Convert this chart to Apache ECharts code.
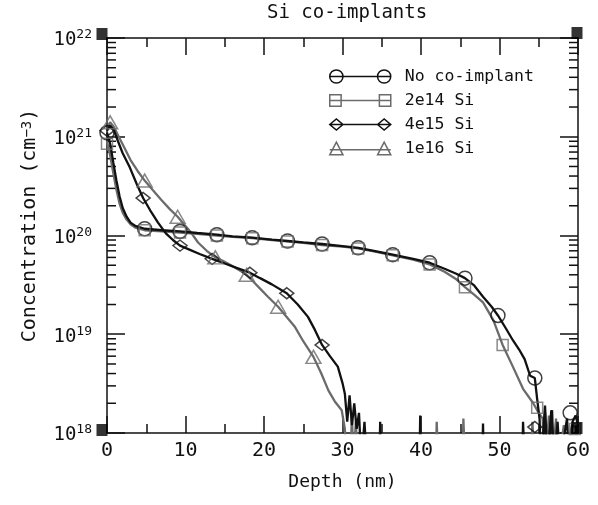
<!DOCTYPE html>
<html>
<head>
<meta charset="utf-8">
<title>Si co-implants</title>
<script src="https://cdn.jsdelivr.net/npm/echarts@6/dist/echarts.min.js"></script>
<style>
  html, body { margin: 0; padding: 0; background: #fff; }
  #chart { width: 598px; height: 505px; }
</style>
</head>
<body>
<div id="chart"></div>
<script>
// depth (nm), concentration (cm^-3)
const noImplantLine = [
  [0, 1.1e21], [0.4, 8.5e20], [0.8, 5.5e20], [1.2, 3.6e20], [1.6, 2.5e20], [2.0, 1.9e20],
  [2.5, 1.55e20], [3.0, 1.35e20], [3.6, 1.25e20], [4.8, 1.17e20], [7, 1.13e20], [9.3, 1.1e20],
  [11.5, 1.06e20], [14, 1.02e20], [16, 9.8e19], [18.5, 9.5e19], [21, 9.1e19], [23, 8.8e19],
  [25, 8.5e19], [27.4, 8.2e19], [30, 7.8e19], [32, 7.5e19], [34, 7.0e19], [36.4, 6.4e19],
  [39, 5.8e19], [41.1, 5.3e19], [43, 4.6e19], [44.5, 4.1e19], [45.6, 3.7e19], [46.8, 3.1e19],
  [47.9, 2.4e19], [49, 1.9e19], [49.8, 1.55e19], [50.8, 1.15e19], [51.7, 8.7e18], [52.5, 7e18],
  [53.2, 5.6e18], [53.9, 3.8e18], [54.5, 3.6e18], [54.8, 2.2e18], [55.1, 1.4e18], [55.3, 5e17],
  [55.8, 1.9e18], [56.1, 5e17], [56.6, 1.7e18], [56.9, 5e17], [57.4, 1.3e18], [57.7, 5e17],
  [58.6, 1.4e18], [58.9, 5e17], [59.3, 1.3e18], [59.7, 1.5e18], [60, 1.2e18]
];
const noImplantMarks = [
  [0, 1.1e21], [4.8, 1.17e20], [9.3, 1.1e20], [14, 1.02e20], [18.5, 9.5e19], [23, 8.8e19],
  [27.4, 8.2e19], [32, 7.5e19], [36.4, 6.4e19], [41.1, 5.3e19], [45.6, 3.7e19], [49.8, 1.55e19],
  [54.5, 3.6e18], [59, 1.6e18]
];

const si2e14Line = [
  [0, 9e20], [0.4, 6.5e20], [0.8, 4.3e20], [1.2, 2.9e20], [1.6, 2.1e20], [2.0, 1.7e20],
  [2.5, 1.45e20], [3.0, 1.3e20], [3.6, 1.2e20], [4.8, 1.13e20], [7, 1.1e20], [9.3, 1.07e20],
  [11.5, 1.04e20], [14, 1.0e20], [16, 9.7e19], [18.5, 9.4e19], [21, 9.0e19], [23, 8.7e19],
  [25, 8.4e19], [27.4, 8.0e19], [30, 7.7e19], [32, 7.4e19], [34, 6.9e19], [36.4, 6.3e19],
  [39, 5.7e19], [41.1, 5.1e19], [43, 4.3e19], [44.5, 3.6e19], [45.6, 3.0e19], [46.8, 2.5e19],
  [47.9, 2.1e19], [49.2, 1.4e19], [50.4, 7.8e18], [51.7, 4.7e18], [53, 2.8e18], [54.3, 2.0e18],
  [55.0, 1.6e18], [55.5, 1.4e18], [55.8, 5e17], [56.3, 1.5e18], [56.6, 5e17], [57.2, 1.3e18],
  [57.5, 5e17], [58.2, 1.2e18], [58.5, 5e17], [59.2, 1.2e18], [60, 1.1e18]
];
const si2e14Marks = [
  [0, 8.5e20], [4.8, 1.13e20], [9.3, 1.07e20], [14, 1.0e20], [18.5, 9.4e19], [23, 8.7e19],
  [27.4, 8.0e19], [32, 7.4e19], [36.4, 6.3e19], [41.1, 5.1e19], [45.6, 3.0e19], [50.4, 7.8e18],
  [54.8, 1.8e18], [59.6, 1.1e18]
];

const si4e15Line = [
  [0, 1.15e21], [0.4, 1.3e21], [0.9, 1.15e21], [1.4, 9e20], [2.0, 6.8e20], [2.9, 4.9e20],
  [3.8, 3.3e20], [4.6, 2.4e20], [5.5, 1.8e20], [6.5, 1.35e20], [7.5, 1.05e20], [8.4, 9e19],
  [9.3, 7.9e19], [10.5, 7.2e19], [11.8, 6.5e19], [13.4, 5.8e19], [15, 5.2e19], [16.5, 4.7e19],
  [18.2, 4.2e19], [19.5, 3.7e19], [21, 3.2e19], [22.9, 2.6e19], [24.3, 2.0e19], [25.6, 1.5e19],
  [26.5, 1.1e19], [27.4, 7.8e18], [28.4, 6e18], [29.4, 4.7e18], [30.0, 3.2e18], [30.3, 2.5e18],
  [30.6, 1.3e18], [30.9, 2.4e18], [31.2, 1.2e18], [31.5, 2.0e18], [31.8, 1.1e18], [32.1, 1.6e18],
  [32.4, 5e17], [32.8, 1.3e18], [33.1, 5e17], [34.7, 5e17], [34.8, 1.3e18], [34.9, 5e17],
  [39.8, 5e17], [39.9, 1.5e18], [40.0, 5e17], [47.8, 5e17], [47.9, 1.25e18], [48.0, 5e17],
  [52.9, 5e17], [53.0, 1.3e18], [53.2, 5e17], [55.6, 5e17], [55.8, 1.6e18], [56, 5e17],
  [56.7, 1.7e18], [56.9, 5e17], [59.5, 5e17], [59.8, 1.2e18], [60, 5e17]
];
const si4e15Marks = [
  [0, 1.15e21], [4.6, 2.4e20], [9.3, 7.9e19], [13.4, 5.8e19], [18.2, 4.2e19], [22.9, 2.6e19],
  [27.4, 7.8e18], [54.5, 1.15e18]
];

const si1e16Line = [
  [0, 1.25e21], [0.4, 1.4e21], [0.9, 1.25e21], [1.5, 1.0e21], [2.2, 7.8e20], [3.0, 5.8e20],
  [3.9, 4.5e20], [4.8, 3.6e20], [5.8, 2.9e20], [6.9, 2.3e20], [8.0, 1.85e20], [9.0, 1.55e20],
  [9.8, 1.3e20], [10.6, 1.1e20], [11.6, 8.5e19], [12.7, 7e19], [13.8, 6.0e19], [14.8, 5.5e19],
  [16.2, 4.8e19], [17.8, 4.0e19], [18.5, 3.5e19], [19.5, 2.9e19], [20.5, 2.4e19], [21.8, 1.9e19],
  [23.9, 1.2e19], [25, 8.5e18], [26.3, 5.9e18], [27.3, 4e18], [28.2, 2.7e18], [29.0, 2.1e18],
  [29.9, 1.7e18], [30.3, 1.1e18], [30.5, 5e17], [31.0, 5e17], [31.2, 1.5e18], [31.4, 5e17],
  [31.7, 1.3e18], [31.9, 5e17], [41.9, 5e17], [42.0, 1.3e18], [42.2, 5e17], [45.3, 5e17],
  [45.4, 1.4e18], [45.6, 5e17], [54.0, 5e17], [54.2, 1.3e18], [54.4, 5e17], [57.0, 5e17],
  [57.2, 1.4e18], [57.4, 5e17], [60, 5e17]
];
const si1e16Marks = [
  [0.4, 1.4e21], [4.8, 3.6e20], [9.0, 1.55e20], [13.8, 6.0e19], [17.8, 4.0e19], [21.8, 1.9e19],
  [26.3, 5.9e18]
];

const seriesNames = ['No co-implant', '2e14 Si', '4e15 Si', '1e16 Si'];
const cornerPoints = [[0, 1e22], [60, 1e22], [0, 1e18], [60, 1e18]];

// minor log ticks 2..9 per decade
const yMinorTicks = [];
for (let n = 18; n < 22; n++) {
  for (let k = 2; k <= 9; k++) yMinorTicks.push(k * Math.pow(10, n));
}

const FONT = 'DejaVu Sans Mono';
const INK = '#111';
const GRAY = '#6b6b6b';

// legend icons: marker - line - marker, 61 x 14
const icons = {
  circle: 'path://M0.5,7A6.5,6.5,0,1,1,13.5,7A6.5,6.5,0,1,1,0.5,7ZM47.5,7A6.5,6.5,0,1,1,60.5,7A6.5,6.5,0,1,1,47.5,7ZM0.5,7L60.5,7',
  square: 'path://M1,1.5L12,1.5L12,12.5L1,12.5ZM49,1.5L60,1.5L60,12.5L49,12.5ZM1,7L60,7',
  diamond: 'path://M0.5,7L7,1.5L13.5,7L7,12.5ZM47.5,7L54,1.5L60.5,7L54,12.5ZM0.5,7L60.5,7',
  triangle: 'path://M0.5,13L7,0.5L13.5,13ZM47.5,13L54,0.5L60.5,13ZM0.5,8L60.5,8'
};

const chart = echarts.init(document.getElementById('chart'));

function lineSeries(name, data, color) {
  return {
    name: name, type: 'line', data: data,
    showSymbol: false, symbol: 'none',
    lineStyle: { color: color, width: 2.3 },
    itemStyle: { color: color },
    clip: true, z: 2
  };
}

function markSeries(name, data, color, symbol, size) {
  return {
    name: name, type: 'scatter', data: data,
    symbol: symbol, symbolSize: size,
    itemStyle: { color: 'rgba(0,0,0,0)', borderColor: color, borderWidth: 1.5 },
    clip: false, z: 3
  };
}

const tickStyle = { color: INK, width: 1.5 };
const axisCommon = {
  axisLine: { onZero: false, lineStyle: { color: INK, width: 1.5 } },
  splitLine: { show: false }
};

chart.setOption({
  animation: false,
  backgroundColor: '#fff',
  title: {
    text: 'Si co-implants',
    left: 267, top: 4, padding: 0,
    textStyle: { fontFamily: FONT, fontSize: 19, fontWeight: 'normal', color: INK }
  },
  legend: {
    orient: 'vertical', left: 329, top: 68, padding: 0,
    itemWidth: 61, itemHeight: 14, itemGap: 7,
    selectedMode: false,
    textStyle: { fontFamily: FONT, fontSize: 16.5, color: INK, padding: [0, 0, 0, 9] },
    data: [
      { name: seriesNames[0], icon: icons.circle, itemStyle: { color: 'rgba(0,0,0,0)', borderColor: INK, borderWidth: 1.5 } },
      { name: seriesNames[1], icon: icons.square, itemStyle: { color: 'rgba(0,0,0,0)', borderColor: GRAY, borderWidth: 1.5 } },
      { name: seriesNames[2], icon: icons.diamond, itemStyle: { color: 'rgba(0,0,0,0)', borderColor: INK, borderWidth: 1.5 } },
      { name: seriesNames[3], icon: icons.triangle, itemStyle: { color: 'rgba(0,0,0,0)', borderColor: GRAY, borderWidth: 1.5 } }
    ]
  },
  grid: { left: 107, right: 20, top: 38, bottom: 72 },
  xAxis: [
    Object.assign({
      type: 'value', min: 0, max: 60, interval: 10,
      name: 'Depth (nm)', nameLocation: 'middle', nameGap: 40,
      nameTextStyle: { fontFamily: FONT, fontSize: 18, color: INK },
      axisTick: { inside: true, length: 17, lineStyle: tickStyle },
      minorTick: { show: true, splitNumber: 2, length: 9, lineStyle: tickStyle },
      axisLabel: { fontFamily: FONT, fontSize: 20, color: INK, margin: 8 }
    }, axisCommon),
    Object.assign({
      type: 'value', min: 0, max: 60, interval: 10, position: 'top',
      axisTick: { inside: true, length: 17, lineStyle: tickStyle },
      minorTick: { show: true, splitNumber: 2, length: 9, lineStyle: tickStyle },
      axisLabel: { show: false }
    }, axisCommon)
  ],
  yAxis: [
    Object.assign({
      type: 'log', logBase: 10, min: 1e18, max: 1e22, splitNumber: 4,
      name: 'Concentration (cm{s|−3})', nameLocation: 'middle', nameGap: 67,
      nameTextStyle: {
        fontFamily: FONT, fontSize: 20, color: INK, padding: [0, 0, 0, 20],
        rich: {
          s: { fontFamily: FONT, fontSize: 14, color: INK, verticalAlign: 'top', lineHeight: 14 }
        }
      },
      axisTick: { inside: true, length: 18, lineStyle: tickStyle },
      axisLabel: {
        margin: 15,
        formatter: function (v) { return '{b|10}{s|' + Math.round(Math.log10(v)) + '}'; },
        rich: {
          b: { fontFamily: FONT, fontSize: 19, color: INK, lineHeight: 19, padding: [5, 0, 0, 0] },
          s: { fontFamily: FONT, fontSize: 13, color: INK, lineHeight: 13, verticalAlign: 'top' }
        }
      }
    }, axisCommon),
    Object.assign({
      type: 'log', logBase: 10, min: 1e18, max: 1e22, splitNumber: 4, position: 'right',
      axisTick: { inside: true, length: 18, lineStyle: tickStyle },
      axisLabel: { show: false }
    }, axisCommon)
  ],
  series: [
    lineSeries(seriesNames[1], si2e14Line, GRAY),
    lineSeries(seriesNames[3], si1e16Line, GRAY),
    lineSeries(seriesNames[0], noImplantLine, INK),
    lineSeries(seriesNames[2], si4e15Line, INK),
    markSeries(seriesNames[0], noImplantMarks, INK, 'circle', 14),
    markSeries(seriesNames[1], si2e14Marks, GRAY, 'rect', 11),
    markSeries(seriesNames[2], si4e15Marks, INK, 'diamond', [14, 11]),
    markSeries(seriesNames[3], si1e16Marks, GRAY, 'triangle', [15, 13]),
    {
      type: 'custom', silent: true, clip: false, z: 1,
      data: yMinorTicks.map(function (v) { return [0, v]; }),
      renderItem: function (params, api) {
        const l = api.coord([0, api.value(1)]);
        const r = api.coord([60, api.value(1)]);
        const st = { stroke: INK, lineWidth: 1.5 };
        return {
          type: 'group',
          children: [
            { type: 'line', shape: { x1: l[0], y1: l[1], x2: l[0] + 9, y2: l[1] }, style: st },
            { type: 'line', shape: { x1: r[0] - 9, y1: r[1], x2: r[0], y2: r[1] }, style: st }
          ]
        };
      }
    },
    {
      type: 'scatter', silent: true, clip: false, z: 4,
      symbol: 'rect', symbolSize: [11, 12],
      itemStyle: { color: '#000' },
      data: [
        { value: cornerPoints[0], symbolOffset: [-5, -4] },
        { value: cornerPoints[1], symbolOffset: [-1, -5] },
        { value: cornerPoints[2], symbolOffset: [-5, -3] },
        { value: cornerPoints[3], symbolOffset: [-1, -5] }
      ]
    }
  ]
});
</script>
</body>
</html>
